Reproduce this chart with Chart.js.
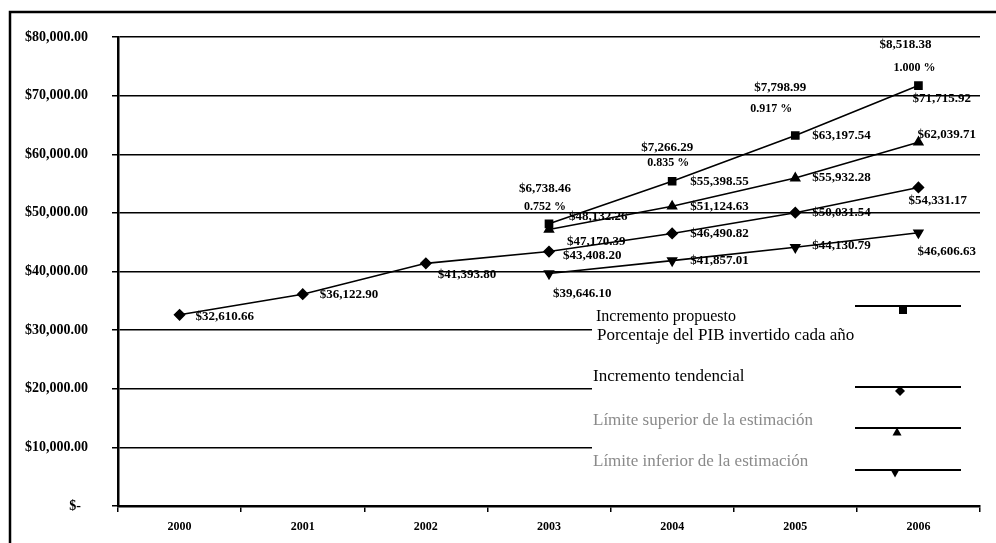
<!DOCTYPE html>
<html>
<head>
<meta charset="utf-8">
<script src="https://cdn.jsdelivr.net/npm/chart.js@4.4.1/dist/chart.umd.min.js"></script>
<style>html,body{margin:0;padding:0;background:#fff}canvas{display:block}</style>
</head>
<body>
<canvas id="c" width="996" height="543"></canvas>
<script>
// values
const years = ['2000', '2001', '2002', '2003', '2004', '2005', '2006'];
const propuesto = [null, null, null, 48132.26, 55398.55, 63197.54, 71715.92];
const tendencial = [32610.66, 36122.90, 41393.80, 43408.20, 46490.82, 50031.54, 54331.17];
const limSup = [null, null, null, 47170.39, 51124.63, 55932.28, 62039.71];
const limInf = [null, null, null, 39646.10, 41857.01, 44130.79, 46606.63];
const incremento = [null, null, null, 6738.46, 7266.29, 7798.99, 8518.38];
const pctPIB = [null, null, null, 0.752, 0.835, 0.917, 1.000];
const names = ['Incremento propuesto', 'Porcentaje del PIB invertido cada año', 'Incremento tendencial',
  'Límite superior de la estimación', 'Límite inferior de la estimación'];

const SERIF = '"Liberation Serif", "DejaVu Serif", serif';
const money = v => v === 0 ? '$-\u2002' : '$' + v.toLocaleString('en-US', { minimumFractionDigits: 2, maximumFractionDigits: 2 });

// label nudges [dx, dy] per point (style only)
const nudges = [
  [null, null, null, [20, -7], [18, 0], [17, 0], [-6, 13]],
  [[16, 2], [17, 0], [12, 11], [14, 4], [18, 0], [17, 0], [-10, 13]],
  [null, null, null, [18, 12], [18, 0], [17, 0], [-1, -8]],
  [null, null, null, [4, 20], [18, 0], [17, -2], [-1, 19]]
];
const incNudge = [null, null, null, [-4, -35], [-5, -34], [-15, -48], [-13, -41]];
const pctNudge = [null, null, null, [-4, -17], [-4, -18], [-24, -27], [-4, -18]];

const valueLabels = {
  id: 'valueLabels',
  afterDatasetsDraw(chart) {
    const ctx = chart.ctx;
    ctx.save();
    ctx.fillStyle = '#000';
    ctx.font = 'bold 13px ' + SERIF;
    ctx.textBaseline = 'middle';
    chart.data.datasets.forEach((ds, di) => {
      const meta = chart.getDatasetMeta(di);
      meta.data.forEach((pt, i) => {
        const v = ds.data[i];
        if (v == null || !nudges[di][i]) return;
        ctx.textAlign = 'left';
        ctx.fillText(money(v), pt.x + nudges[di][i][0], pt.y + nudges[di][i][1]);
      });
    });
    const pm = chart.getDatasetMeta(0);
    ctx.textAlign = 'center';
    pm.data.forEach((pt, i) => {
      if (incremento[i] == null) return;
      ctx.font = 'bold 13px ' + SERIF;
      ctx.fillText(money(incremento[i]), pt.x + incNudge[i][0], pt.y + incNudge[i][1]);
      ctx.font = 'bold 12px ' + SERIF;
      ctx.fillText(pctPIB[i].toFixed(3) + ' %', pt.x + pctNudge[i][0], pt.y + pctNudge[i][1]);
    });
    ctx.restore();
  }
};

function marker(ctx, style, x, y, r) {
  ctx.beginPath();
  if (style === 'rect') ctx.rect(x - r, y - r, 2 * r, 2 * r);
  else if (style === 'rectRot') { ctx.moveTo(x, y - r); ctx.lineTo(x + r, y); ctx.lineTo(x, y + r); ctx.lineTo(x - r, y); }
  else if (style === 'up') { ctx.moveTo(x, y - r); ctx.lineTo(x + r, y + r * 0.8); ctx.lineTo(x - r, y + r * 0.8); }
  else { ctx.moveTo(x, y + r); ctx.lineTo(x + r, y - r * 0.8); ctx.lineTo(x - r, y - r * 0.8); }
  ctx.closePath();
  ctx.fill();
}

const oddLegend = {
  id: 'oddLegend',
  beforeDatasetsDraw(chart) {
    const ctx = chart.ctx;
    ctx.save();
    ctx.fillStyle = '#fff';
    ctx.fillRect(592, 296, 390, 196);
    const rows = [
      { x: 596, y: 317, c: '#000', f: '16px ' },
      { x: 597, y: 336, c: '#000', f: '17px ' },
      { x: 593, y: 377, c: '#000', f: '17px ' },
      { x: 593, y: 421, c: '#8a8a8a', f: '17px ' },
      { x: 593, y: 462, c: '#8a8a8a', f: '17px ' }
    ];
    ctx.textBaseline = 'middle';
    ctx.textAlign = 'left';
    rows.forEach((r, i) => {
      ctx.fillStyle = r.c;
      ctx.font = r.f + SERIF;
      ctx.fillText(names[i], r.x, r.y);
    });
    const samples = [
      { y: 306, mx: 903, my: 310, s: 'rect', r: 4 },
      { y: 387, mx: 900, my: 391, s: 'rectRot', r: 5 },
      { y: 428, mx: 897, my: 432, s: 'up', r: 4.5 },
      { y: 470, mx: 895, my: 473, s: 'down', r: 4.5 }
    ];
    ctx.strokeStyle = '#000';
    ctx.fillStyle = '#000';
    ctx.lineWidth = 1.8;
    samples.forEach(s => {
      ctx.beginPath();
      ctx.moveTo(855, s.y);
      ctx.lineTo(961, s.y);
      ctx.stroke();
      marker(ctx, s.s, s.mx, s.my, s.r);
    });
    ctx.restore();
  },
  afterDraw(chart) {
    const ctx = chart.ctx;
    ctx.save();
    ctx.strokeStyle = '#000';
    ctx.lineWidth = 2.5;
    ctx.beginPath();
    ctx.moveTo(10, 543);
    ctx.lineTo(10, 12);
    ctx.lineTo(996, 12);
    ctx.stroke();
    ctx.restore();
  }
};

const line = (label, data, style, rot) => ({
  label, data,
  borderColor: '#000', backgroundColor: '#000', borderWidth: 1.6,
  pointStyle: style, pointRotation: rot || 0, pointRadius: 5,
  pointBackgroundColor: '#000', pointBorderColor: '#000', tension: 0
});

new Chart(document.getElementById('c'), {
  type: 'line',
  data: {
    labels: years,
    datasets: [
      line(names[0], propuesto, 'rect'),
      line(names[2], tendencial, 'rectRot'),
      line(names[3], limSup, 'triangle'),
      line(names[4], limInf, 'triangle', 180)
    ]
  },
  options: {
    responsive: false,
    animation: false,
    layout: { padding: { top: 37, right: 16, left: 0, bottom: 0 } },
    plugins: { legend: { display: false }, tooltip: { enabled: false } },
    scales: {
      x: {
        offset: true,
        grid: { offset: true, drawOnChartArea: false, color: '#000', tickLength: 6, lineWidth: 1.5 },
        border: { color: '#000', width: 2.5 },
        ticks: { color: '#000', font: { family: SERIF, size: 12, weight: 'bold' }, padding: 8, maxRotation: 0 },
        afterFit: s => { s.height = 37; }
      },
      y: {
        min: 0, max: 80000,
        grid: { color: '#000', lineWidth: 1.5, tickLength: 6 },
        border: { color: '#000', width: 2.5 },
        ticks: { stepSize: 10000, color: '#000', padding: 24, font: { family: SERIF, size: 14, weight: 'bold' }, callback: v => money(v) },
        afterFit: s => { s.width = 118; }
      }
    }
  },
  plugins: [valueLabels, oddLegend]
});
</script>
</body>
</html>
